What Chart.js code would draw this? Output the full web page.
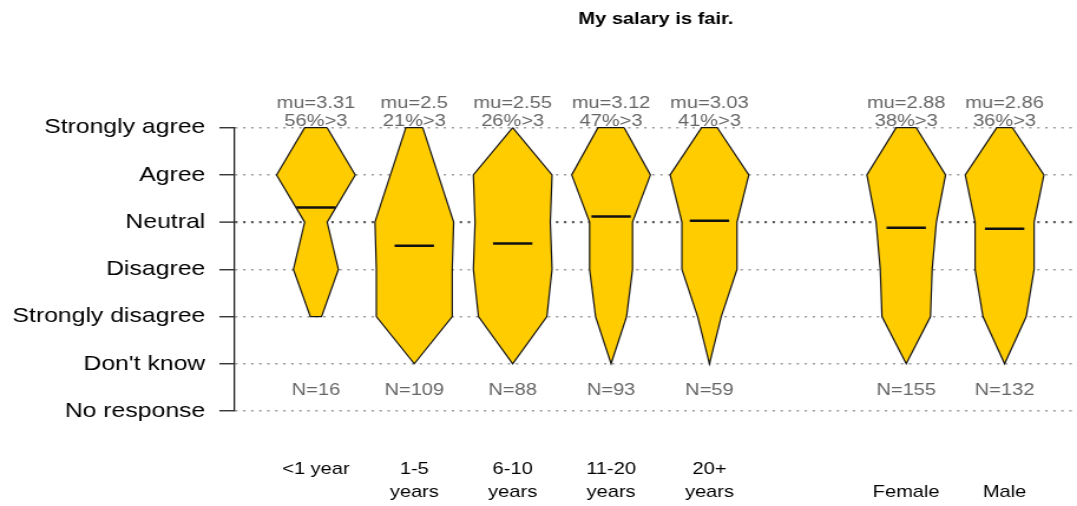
<!DOCTYPE html>
<html><head><meta charset="utf-8">
<script src="https://cdn.jsdelivr.net/npm/chart.js@4/dist/chart.umd.min.js"></script>
<style>
html,body{margin:0;padding:0;background:#fff;overflow:hidden;width:1077px;height:506px}
#c{display:block;transform:scaleX(1.17963);transform-origin:0 0}
</style></head><body>
<canvas id="c" width="913" height="506"></canvas>
<script>
// ---- data ----
const chartTitle = 'My salary is fair.';
const groupLabels = [['<1 year'], ['1-5', 'years'], ['6-10', 'years'], ['11-20', 'years'], ['20+', 'years'], ['', 'Female'], ['', 'Male']];
const groupPositions = [1, 2, 3, 4, 5, 7, 8];
const levelLabels = ['No response', "Don't know", 'Strongly disagree', 'Disagree', 'Neutral', 'Agree', 'Strongly agree']; // values -1..5
const levelValues = [5, 4, 3, 2, 1, 0]; // SA, A, N, D, SD, DK
const countStronglyAgree    = [2, 6, 0, 11, 4, 12, 8];
const countAgree            = [7, 17, 23, 33, 20, 47, 40];
const countNeutral          = [2, 28, 22, 18, 14, 36, 30];
const countDisagree         = [4, 27, 23, 18, 14, 31, 30];
const countStronglyDisagree = [1, 27, 20, 13, 6, 29, 22];
const countDontKnow         = [null, 0, 0, 0, 0, 0, 0];
const meanScore  = [3.31, 2.5, 2.55, 3.12, 3.03, 2.88, 2.86];
const pctAbove3  = [56, 21, 26, 47, 41, 38, 36];
const nResponses = [16, 109, 88, 93, 59, 155, 132];

// ---- build datasets ----
const FONT = "'Liberation Sans', Arial, Helvetica, sans-serif";
const MAXHW = 0.4, MEANHW = 0.2;
const datasets = [];
groupPositions.forEach((p, i) => {
  const counts = [countStronglyAgree[i], countAgree[i], countNeutral[i], countDisagree[i], countStronglyDisagree[i], countDontKnow[i]];
  const lv = [], cs = [];
  counts.forEach((c, k) => { if (c !== null) { lv.push(levelValues[k]); cs.push(c); } });
  const mx = Math.max(...cs);
  const right = cs.map((c, k) => ({x: p + MAXHW * c / mx, y: lv[k]}));
  const left = cs.map((c, k) => ({x: p - MAXHW * c / mx, y: lv[k]})).reverse();
  const pts = right.concat(left);
  pts.push(right[0]);
  datasets.push({
    data: pts, fill: 'shape', backgroundColor: '#FFCC00', borderColor: '#151515',
    borderWidth: 1.2, pointRadius: 0, tension: 0, order: 2, clip: false, borderJoinStyle: 'miter'
  });
  datasets.push({
    data: [{x: p - MEANHW, y: meanScore[i]}, {x: p + MEANHW, y: meanScore[i]}],
    fill: false, borderColor: '#111', borderWidth: 2.5, pointRadius: 0, order: 0, clip: false, borderCapStyle: 'butt'
  });
});

const annotations = {
  id: 'annotations',
  afterDatasetsDraw(chart) {
    const {ctx, scales: {x, y}} = chart;
    const top = y.getPixelForValue(5), bot = y.getPixelForValue(-1);
    ctx.save();
    ctx.font = '17px ' + FONT;
    ctx.fillStyle = '#666';
    ctx.textAlign = 'center';
    ctx.textBaseline = 'alphabetic';
    groupPositions.forEach((p, i) => {
      const px = x.getPixelForValue(p);
      ctx.fillText('mu=' + meanScore[i], px, top - 20);
      ctx.fillText(pctAbove3[i] + '%>3', px, top - 2);
      ctx.fillText('N=' + nResponses[i], px, bot - 16);
    });
    ctx.restore();
  }
};

new Chart(document.getElementById('c'), {
  type: 'line',
  data: {datasets},
  plugins: [annotations],
  options: {
    responsive: false,
    animation: false,
    events: [],
    layout: {padding: 0},
    plugins: {
      legend: {display: false},
      tooltip: {enabled: false},
      title: {
        display: true, text: chartTitle, color: '#000', fullSize: false,
        font: {family: FONT, size: 17, weight: 'bold'},
        padding: {top: 8.8, bottom: 98.5}
      }
    },
    scales: {
      x: {
        type: 'linear', min: 0.175, max: 8.736,
        grid: {display: false, drawTicks: false},
        border: {display: false},
        afterBuildTicks: s => { s.ticks = groupPositions.map(v => ({value: v})); },
        afterFit: s => { s.height = 95; s.paddingLeft = 0; s.paddingRight = 0; },
        ticks: {
          autoSkip: false, maxRotation: 0, minRotation: 0, padding: 46.5, color: '#000',
          font: {family: FONT, size: 17, lineHeight: 23 / 17},
          callback: v => { const k = groupPositions.indexOf(v); return k >= 0 ? groupLabels[k] : ''; }
        }
      },
      y: {
        type: 'linear', min: -1, max: 5,
        afterFit: s => { s.width = 199; s.paddingTop = 0; s.paddingBottom = 0; },
        grid: {
          drawOnChartArea: true, drawTicks: true, tickLength: 13,
          color: c => (c.tick && c.tick.value === 3) ? '#555' : '#999',
          lineWidth: c => (c.tick && c.tick.value === 3) ? 2.2 : 1.5,
          tickColor: '#222', tickWidth: 1.3, tickBorderDash: []
        },
        border: {display: true, color: '#222', width: 1.3, dash: [2, 4.8]},
        ticks: {
          stepSize: 1, padding: 12, color: '#000',
          font: {family: FONT, size: 21},
          callback: v => levelLabels[Math.round(v) + 1]
        }
      }
    }
  }
});
</script>
</body></html>
